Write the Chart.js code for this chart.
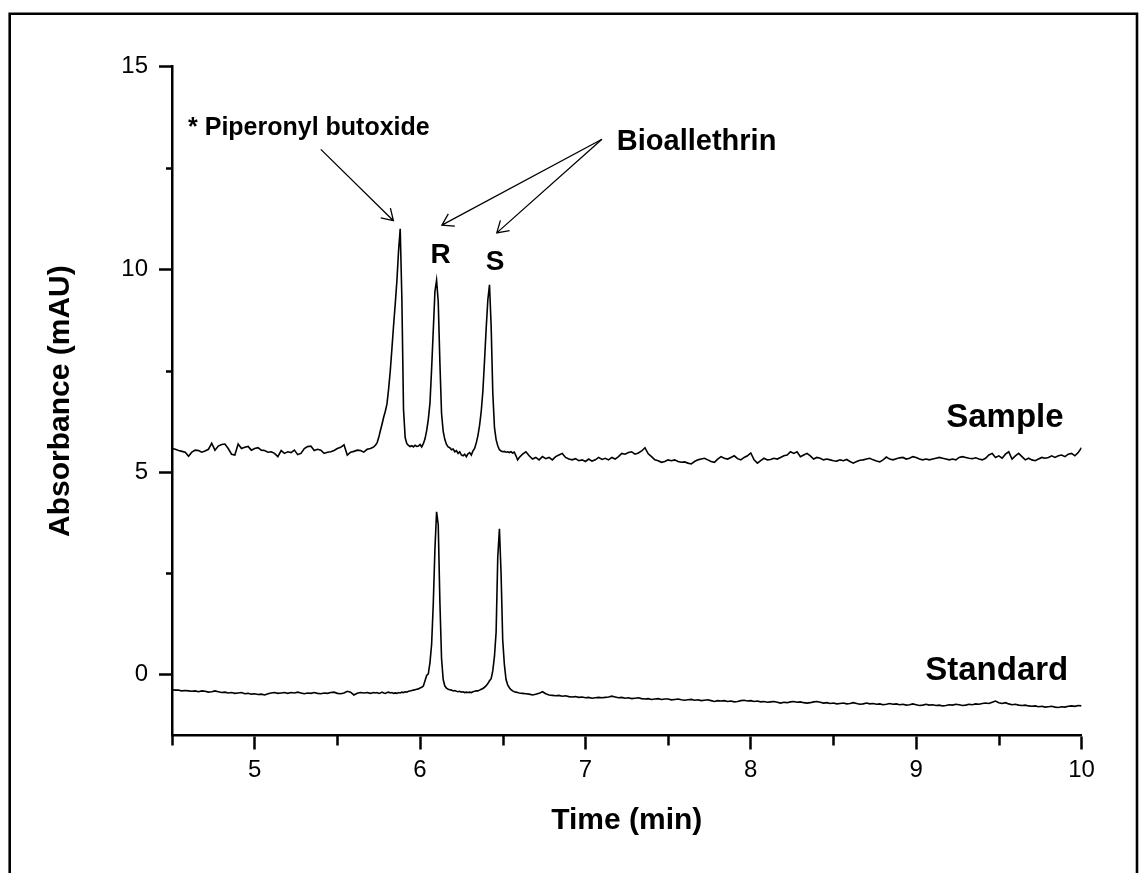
<!DOCTYPE html>
<html lang="en">
<head>
  <meta charset="UTF-8" />
  <title>Chromatogram - Sample vs Standard</title>
  <script src="https://cdn.jsdelivr.net/npm/chart.js"></script>
  <style>
    body, html { margin: 0; padding: 0; background: #fff; overflow: hidden; }
    #chart { display: block; }
  </style>
</head>
<body>
  <canvas id="chart" width="1139" height="873"></canvas>

  <script>
    // retention time (min)
    const times = [
      4.50,4.52,4.54,4.56,4.58,4.60,4.62,4.64,4.66,4.68,
      4.70,4.72,4.74,4.76,4.78,4.80,4.82,4.84,4.86,4.88,
      4.90,4.92,4.94,4.96,4.98,5.00,5.02,5.04,5.06,5.08,
      5.10,5.12,5.14,5.16,5.18,5.20,5.22,5.24,5.26,5.28,
      5.30,5.32,5.34,5.36,5.38,5.40,5.42,5.44,5.46,5.48,
      5.50,5.52,5.54,5.56,5.58,5.60,5.62,5.64,5.66,5.68,
      5.70,
      5.71,5.72,5.73,5.74,5.75,5.76,5.77,5.78,5.79,5.80,
      5.81,5.82,5.83,5.84,5.85,5.86,5.87,5.88,5.89,5.90,
      5.91,5.92,5.93,5.94,5.95,5.96,5.97,5.98,5.99,6.00,
      6.01,6.02,6.03,6.04,6.05,6.06,6.07,6.08,6.09,6.10,
      6.11,6.12,6.13,6.14,6.15,6.16,6.17,6.18,6.19,6.20,
      6.21,6.22,6.23,6.24,6.25,6.26,6.27,6.28,6.29,6.30,
      6.31,6.32,6.33,6.34,6.35,6.36,6.37,6.38,6.39,6.40,
      6.41,6.42,6.43,6.44,6.45,6.46,6.47,6.48,6.49,6.50,
      6.51,6.52,6.53,6.54,6.55,6.56,6.57,6.58,6.59,6.60,
      6.62,6.64,6.66,6.68,6.70,6.72,6.74,6.76,6.78,6.80,
      6.82,6.84,6.86,6.88,6.90,6.92,6.94,6.96,6.98,7.00,
      7.02,7.04,7.06,7.08,7.10,7.12,7.14,7.16,7.18,7.20,
      7.22,7.24,7.26,7.28,7.30,7.32,7.34,7.36,7.38,7.40,
      7.42,7.44,7.46,7.48,7.50,7.52,7.54,7.56,7.58,7.60,
      7.62,7.64,7.66,7.68,7.70,7.72,7.74,7.76,7.78,7.80,
      7.82,7.84,7.86,7.88,7.90,7.92,7.94,7.96,7.98,8.00,
      8.02,8.04,8.06,8.08,8.10,8.12,8.14,8.16,8.18,8.20,
      8.22,8.24,8.26,8.28,8.30,8.32,8.34,8.36,8.38,8.40,
      8.42,8.44,8.46,8.48,8.50,8.52,8.54,8.56,8.58,8.60,
      8.62,8.64,8.66,8.68,8.70,8.72,8.74,8.76,8.78,8.80,
      8.82,8.84,8.86,8.88,8.90,8.92,8.94,8.96,8.98,9.00,
      9.02,9.04,9.06,9.08,9.10,9.12,9.14,9.16,9.18,9.20,
      9.22,9.24,9.26,9.28,9.30,9.32,9.34,9.36,9.38,9.40,
      9.42,9.44,9.46,9.48,9.50,9.52,9.54,9.56,9.58,9.60,
      9.62,9.64,9.66,9.68,9.70,9.72,9.74,9.76,9.78,9.80,
      9.82,9.84,9.86,9.88,9.90,9.92,9.94,9.96,9.98,10.00
    ];

    // absorbance (mAU), sample trace
    const sampleAbs = [
      5.58,5.56,5.53,5.51,5.49,5.39,5.49,5.54,5.53,5.49,
      5.52,5.56,5.71,5.54,5.64,5.68,5.69,5.58,5.44,5.42,
      5.69,5.58,5.61,5.63,5.54,5.58,5.60,5.54,5.53,5.49,
      5.50,5.46,5.38,5.53,5.46,5.50,5.48,5.54,5.43,5.46,
      5.58,5.63,5.64,5.53,5.56,5.54,5.46,5.49,5.50,5.53,
      5.58,5.61,5.67,5.42,5.49,5.51,5.54,5.53,5.49,5.56,
      5.58,
      5.60,5.62,5.66,5.72,5.85,6.02,6.18,6.35,6.50,6.68,
      7.05,7.50,8.05,8.62,9.15,9.72,10.45,11.00,9.30,6.55,
      5.85,5.70,5.66,5.63,5.65,5.62,5.66,5.63,5.64,5.68,
      5.62,5.70,5.82,6.02,6.30,6.70,7.55,8.50,9.45,9.73,
      9.20,7.70,6.45,6.00,5.80,5.68,5.62,5.60,5.55,5.57,
      5.50,5.53,5.46,5.50,5.42,5.40,5.44,5.38,5.45,5.48,
      5.42,5.52,5.58,5.72,5.90,6.15,6.50,7.00,7.75,8.55,
      9.25,9.62,8.60,6.95,6.10,5.80,5.65,5.55,5.52,5.50,
      5.51,5.49,5.50,5.48,5.50,5.47,5.49,5.40,5.30,5.36,
      5.44,5.50,5.40,5.32,5.36,5.30,5.38,5.33,5.36,5.30,
      5.38,5.42,5.46,5.36,5.32,5.30,5.33,5.28,5.30,5.26,
      5.32,5.27,5.30,5.36,5.31,5.34,5.30,5.36,5.32,5.38,
      5.46,5.44,5.48,5.50,5.44,5.47,5.52,5.60,5.45,5.38,
      5.30,5.28,5.24,5.26,5.30,5.28,5.30,5.26,5.24,5.25,
      5.22,5.20,5.26,5.30,5.32,5.34,5.30,5.26,5.24,5.32,
      5.38,5.34,5.32,5.36,5.40,5.33,5.30,5.36,5.40,5.47,
      5.30,5.22,5.28,5.34,5.30,5.31,5.34,5.32,5.36,5.40,
      5.42,5.50,5.46,5.50,5.38,5.42,5.46,5.40,5.32,5.36,
      5.34,5.30,5.32,5.30,5.28,5.27,5.30,5.28,5.31,5.26,
      5.22,5.26,5.29,5.30,5.32,5.34,5.30,5.27,5.25,5.30,
      5.37,5.32,5.30,5.33,5.35,5.36,5.32,5.34,5.38,5.36,
      5.32,5.30,5.32,5.30,5.32,5.34,5.36,5.34,5.32,5.30,
      5.32,5.30,5.36,5.38,5.36,5.34,5.33,5.35,5.32,5.30,
      5.34,5.42,5.46,5.36,5.40,5.34,5.44,5.50,5.32,5.40,
      5.46,5.38,5.30,5.34,5.30,5.28,5.32,5.36,5.34,5.36,
      5.40,5.36,5.40,5.42,5.38,5.44,5.46,5.40,5.48,5.60
    ];

    // absorbance (mAU), standard trace
    const standardAbs = [
      -0.37,-0.38,-0.38,-0.40,-0.39,-0.40,-0.41,-0.40,-0.42,-0.40,
      -0.41,-0.43,-0.42,-0.40,-0.42,-0.44,-0.43,-0.45,-0.44,-0.46,
      -0.45,-0.44,-0.47,-0.46,-0.48,-0.47,-0.49,-0.48,-0.50,-0.47,
      -0.45,-0.44,-0.46,-0.45,-0.44,-0.46,-0.44,-0.45,-0.43,-0.45,
      -0.47,-0.45,-0.46,-0.44,-0.46,-0.47,-0.45,-0.46,-0.44,-0.43,
      -0.46,-0.47,-0.45,-0.41,-0.43,-0.50,-0.46,-0.44,-0.45,-0.44,
      -0.46,
      -0.45,-0.44,-0.45,-0.44,-0.46,-0.45,-0.43,-0.45,-0.46,-0.44,
      -0.43,-0.45,-0.44,-0.46,-0.45,-0.46,-0.44,-0.45,-0.43,-0.44,
      -0.42,-0.43,-0.41,-0.40,-0.39,-0.38,-0.37,-0.36,-0.35,-0.33,
      -0.31,-0.28,-0.15,-0.02,0.02,0.30,0.75,1.75,3.10,4.02,
      3.70,1.80,0.40,-0.12,-0.28,-0.33,-0.36,-0.37,-0.38,-0.40,
      -0.39,-0.41,-0.42,-0.41,-0.43,-0.42,-0.44,-0.43,-0.44,-0.43,
      -0.44,-0.42,-0.41,-0.40,-0.40,-0.38,-0.36,-0.34,-0.31,-0.27,
      -0.22,-0.15,-0.10,0.10,0.45,1.05,2.90,3.60,2.50,0.85,
      0.25,-0.12,-0.25,-0.32,-0.37,-0.40,-0.42,-0.43,-0.44,-0.45,
      -0.46,-0.47,-0.48,-0.50,-0.48,-0.46,-0.42,-0.47,-0.50,-0.51,
      -0.52,-0.51,-0.53,-0.52,-0.54,-0.55,-0.54,-0.56,-0.55,-0.57,
      -0.56,-0.58,-0.57,-0.56,-0.57,-0.56,-0.55,-0.53,-0.55,-0.57,
      -0.56,-0.58,-0.57,-0.59,-0.58,-0.57,-0.59,-0.60,-0.59,-0.61,
      -0.60,-0.59,-0.61,-0.60,-0.60,-0.62,-0.61,-0.60,-0.62,-0.63,
      -0.62,-0.61,-0.63,-0.62,-0.64,-0.63,-0.62,-0.64,-0.66,-0.64,
      -0.65,-0.64,-0.66,-0.65,-0.67,-0.66,-0.64,-0.63,-0.65,-0.64,
      -0.66,-0.65,-0.67,-0.66,-0.68,-0.67,-0.66,-0.68,-0.70,-0.68,
      -0.69,-0.67,-0.66,-0.68,-0.67,-0.69,-0.70,-0.69,-0.67,-0.66,
      -0.68,-0.70,-0.69,-0.71,-0.70,-0.72,-0.71,-0.70,-0.72,-0.71,
      -0.69,-0.71,-0.73,-0.72,-0.70,-0.72,-0.71,-0.73,-0.72,-0.74,
      -0.73,-0.71,-0.73,-0.72,-0.74,-0.73,-0.75,-0.74,-0.72,-0.74,
      -0.76,-0.75,-0.73,-0.75,-0.74,-0.76,-0.75,-0.77,-0.76,-0.74,
      -0.75,-0.73,-0.74,-0.76,-0.75,-0.73,-0.74,-0.72,-0.73,-0.71,
      -0.70,-0.71,-0.68,-0.65,-0.69,-0.71,-0.69,-0.72,-0.74,-0.73,
      -0.75,-0.76,-0.75,-0.77,-0.78,-0.77,-0.79,-0.78,-0.80,-0.79,
      -0.78,-0.80,-0.81,-0.79,-0.80,-0.78,-0.77,-0.78,-0.76,-0.77
    ];

    const xTicks = [5, 6, 7, 8, 9, 10];
    const xMinorTicks = [4.5, 5.5, 6.5, 7.5, 8.5, 9.5];
    const yTicks = [0, 5, 10, 15];
    const yMinorTicks = [2.5, 7.5, 12.5];

    // text labels in data units (time, absorbance)
    const notes = [
      { text: '* Piperonyl butoxide', t: 4.597, v: 13.31, size: 25, align: 'left' },
      { text: 'Bioallethrin', t: 7.190, v: 12.94, size: 29, align: 'left' },
      { text: 'R', t: 6.124, v: 10.15, size: 28, align: 'center' },
      { text: 'S', t: 6.454, v: 9.98, size: 28, align: 'center' },
      { text: 'Sample', t: 9.182, v: 6.12, size: 33, align: 'left' },
      { text: 'Standard', t: 9.055, v: -0.13, size: 33, align: 'left' }
    ];
    // arrows: from (t, v) to (t, v)
    const arrows = [
      [5.400, 12.96, 5.839, 11.20],
      [7.100, 13.21, 6.132, 11.09],
      [7.100, 13.21, 6.464, 10.90]
    ];

    if (sampleAbs.length !== times.length || standardAbs.length !== times.length) {
      console.error('length mismatch', times.length, sampleAbs.length, standardAbs.length);
    }

    const FONT = '"Liberation Sans", Arial, sans-serif';
    Chart.defaults.font.family = FONT;
    Chart.defaults.color = '#000';

    const frameAndNotes = {
      id: 'frameAndNotes',
      afterDraw(chart) {
        const { ctx, scales: { x, y } } = chart;
        ctx.save();
        ctx.strokeStyle = '#000';
        ctx.fillStyle = '#000';

        // outer frame
        ctx.lineWidth = 2.6;
        ctx.beginPath();
        ctx.moveTo(9.7, 873);
        ctx.lineTo(9.7, 13.7);
        ctx.lineTo(1137, 13.7);
        ctx.lineTo(1137, 873);
        ctx.stroke();

        // minor ticks
        ctx.lineWidth = 2.5;
        ctx.beginPath();
        xMinorTicks.forEach(v => {
          const px = Math.round(x.getPixelForValue(v)) + 0.5;
          ctx.moveTo(px, x.top);
          ctx.lineTo(px, x.top + 10);
        });
        yMinorTicks.forEach(v => {
          const py = Math.round(y.getPixelForValue(v)) + 0.5;
          ctx.moveTo(y.right - 6, py);
          ctx.lineTo(y.right, py);
        });
        ctx.stroke();

        // arrows
        ctx.lineWidth = 1.3;
        arrows.forEach(a => {
          const x1 = x.getPixelForValue(a[0]), y1 = y.getPixelForValue(a[1]);
          const x2 = x.getPixelForValue(a[2]), y2 = y.getPixelForValue(a[3]);
          const ang = Math.atan2(y2 - y1, x2 - x1);
          const head = 13, spread = 0.56;
          ctx.beginPath();
          ctx.moveTo(x1, y1);
          ctx.lineTo(x2, y2);
          ctx.moveTo(x2 - head * Math.cos(ang - spread), y2 - head * Math.sin(ang - spread));
          ctx.lineTo(x2, y2);
          ctx.lineTo(x2 - head * Math.cos(ang + spread), y2 - head * Math.sin(ang + spread));
          ctx.stroke();
        });

        // labels
        ctx.textBaseline = 'alphabetic';
        notes.forEach(n => {
          ctx.font = 'bold ' + n.size + 'px ' + FONT;
          ctx.textAlign = n.align;
          ctx.fillText(n.text, x.getPixelForValue(n.t), y.getPixelForValue(n.v));
        });
        ctx.restore();
      }
    };

    const ctx = document.getElementById('chart').getContext('2d');
    new Chart(ctx, {
      type: 'line',
      data: {
        datasets: [
          {
            label: 'Sample',
            data: times.map((t, i) => ({ x: t, y: sampleAbs[i] })),
            borderColor: '#000',
            borderWidth: 1.6,
            pointRadius: 0,
            tension: 0
          },
          {
            label: 'Standard',
            data: times.map((t, i) => ({ x: t, y: standardAbs[i] })),
            borderColor: '#000',
            borderWidth: 1.6,
            pointRadius: 0,
            tension: 0
          }
        ]
      },
      options: {
        responsive: false,
        devicePixelRatio: 1,
        animation: false,
        layout: { padding: { top: 66.7, right: 57.5, left: 0, bottom: 0 } },
        plugins: {
          legend: { display: false },
          tooltip: { enabled: false }
        },
        scales: {
          x: {
            type: 'linear',
            min: 4.5,
            max: 10,
            afterBuildTicks: s => { s.ticks = xTicks.map(v => ({ value: v })); },
            afterFit: s => { s.height = 873 - 735.5; },
            ticks: { font: { size: 24 }, color: '#000', padding: 6, maxRotation: 0 },
            grid: { drawOnChartArea: false, drawTicks: true, tickLength: 14, tickWidth: 2.5, tickColor: '#000' },
            border: { display: true, color: '#000', width: 2.5 },
            title: {
              display: true,
              text: 'Time (min)',
              color: '#000',
              font: { size: 30, weight: 'bold' },
              padding: { top: 0, bottom: 34 }
            }
          },
          y: {
            min: -1.5,
            max: 15,
            afterBuildTicks: s => { s.ticks = yTicks.map(v => ({ value: v })); },
            afterFit: s => { s.width = 172; },
            ticks: { font: { size: 24 }, color: '#000', padding: 11 },
            grid: { drawOnChartArea: false, drawTicks: true, tickLength: 13, tickWidth: 2.5, tickColor: '#000' },
            border: { display: true, color: '#000', width: 2.5 },
            title: {
              display: true,
              text: 'Absorbance (mAU)',
              color: '#000',
              font: { size: 30, weight: 'bold' },
              padding: { top: 43, bottom: 0 }
            }
          }
        }
      },
      plugins: [frameAndNotes]
    });
  </script>
</body>
</html>
